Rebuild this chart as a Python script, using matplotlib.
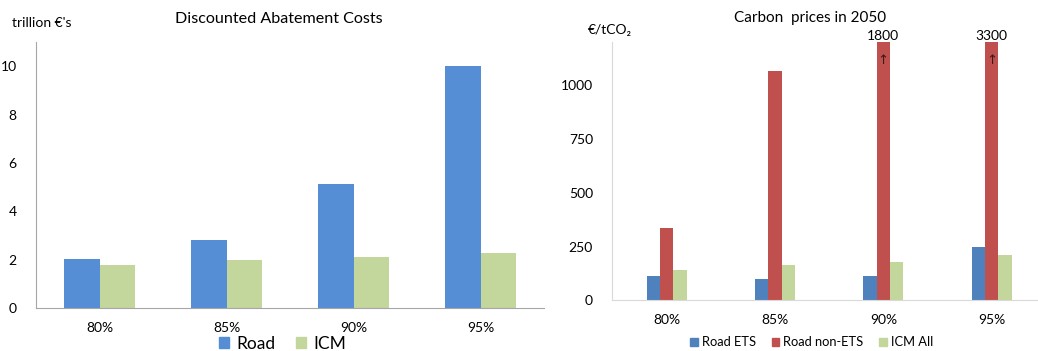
import matplotlib
matplotlib.use("Agg")
from matplotlib import pyplot as plt
from matplotlib.patches import Patch
import numpy as np

plt.rcParams['font.family'] = ['Lato', 'DejaVu Sans']

targets = ["80%", "85%", "90%", "95%"]

# discounted abatement costs, trillion euros
road_cost = [2.05, 2.84, 5.12, 10.0]
icm_cost = [1.78, 1.98, 2.10, 2.29]

# carbon prices in 2050, euro per tonne CO2
road_ets = [112, 100, 111, 250]
road_non_ets = [335, 1067, 1800, 3300]
icm_all = [143, 162, 177, 210]

c_blue1 = '#558ED5'
c_blue2 = '#4F81BD'
c_red = '#C0504D'
c_green = '#C3D69B'
c_axis = '#A6A6A6'

fig = plt.figure(figsize=(10.38, 3.51), dpi=100)

# ---- left: abatement costs
ax1 = fig.add_axes([0.0347, 0.1217, 0.4894, 0.7587])
x = np.arange(len(targets))
w = 0.283
ax1.bar(x - w / 2, road_cost, w, color=c_blue1)
ax1.bar(x + w / 2, icm_cost, w, color=c_green)
ax1.set_xlim(-0.5, 3.5)
ax1.set_ylim(0, 11)
ax1.set_yticks([0, 2, 4, 6, 8, 10])
ax1.set_xticks(x)
ax1.set_xticklabels(targets)
ax1.tick_params(length=0, labelsize=10, pad=10)
ax1.tick_params(axis='y', pad=14)
for s in ['top', 'right']:
    ax1.spines[s].set_visible(False)
for s in ['left', 'bottom']:
    ax1.spines[s].set_color(c_axis)
fig.text(0.269, 0.947, "Discounted Abatement Costs", ha='center', va='center', fontsize=11.6)
fig.text(0.0115, 0.934, "trillion €'s", ha='left', va='center', fontsize=10)
fig.legend(handles=[Patch(color=c_blue1, label="Road"), Patch(color=c_green, label="ICM")],
           loc='center', bbox_to_anchor=(0.272, 0.02), ncol=2, frameon=False,
           fontsize=12.5, handlelength=0.6, handleheight=0.6, handletextpad=0.4,
           columnspacing=1.2, borderpad=0)

# ---- right: carbon prices
ax2 = fig.add_axes([0.590, 0.1444, 0.4176, 0.7359])
w2 = 0.123
ax2.bar(x - w2, road_ets, w2, color=c_blue2)
ax2.bar(x, road_non_ets, w2, color=c_red)
ax2.bar(x + w2, icm_all, w2, color=c_green)
ax2.set_xlim(-0.5, 3.5)
ax2.set_ylim(0, 1200)
ax2.set_yticks([0, 250, 500, 750, 1000])
ax2.set_xticks(x)
ax2.set_xticklabels(targets)
ax2.tick_params(length=0, labelsize=10, pad=10)
ax2.tick_params(axis='y', pad=14)
for s in ['top', 'right']:
    ax2.spines[s].set_visible(False)
ax2.spines['left'].set_color('#D9D9D9')
ax2.spines['bottom'].set_color('#D9D9D9')

# off-scale bars get their value on top and an arrow
top = ax2.get_ylim()[1]
for xi, v in zip(x, road_non_ets):
    if v > top:
        ax2.text(xi, top, str(v), ha='center', va='bottom', fontsize=10)
        ax2.text(xi, top - 85, "↑", ha='center', va='center', fontsize=9.5,
                 color='#3a1a1a', family=['DejaVu Sans'])

fig.text(0.780, 0.949, "Carbon  prices in 2050", ha='center', va='center', fontsize=11)
fig.text(0.588, 0.914, "€/tCO₂", ha='center', va='center', fontsize=10)
fig.legend(handles=[Patch(color=c_blue2, label="Road ETS"),
                    Patch(color=c_red, label="Road non-ETS"),
                    Patch(color=c_green, label="ICM All")],
           loc='center', bbox_to_anchor=(0.782, 0.025), ncol=3, frameon=False,
           fontsize=9.3, handlelength=0.6, handleheight=0.6, handletextpad=0.3,
           columnspacing=1.2, borderpad=0)

fig.savefig("out.png", dpi=100)
